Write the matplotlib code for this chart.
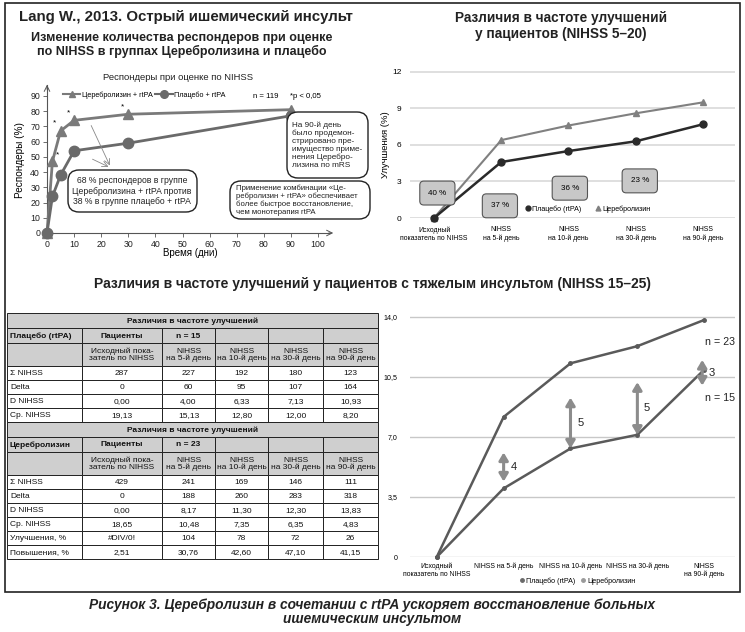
import matplotlib
matplotlib.use('Agg')
import matplotlib.pyplot as plt
from matplotlib import font_manager as fm
from matplotlib.patches import FancyBboxPatch, Rectangle
from matplotlib.lines import Line2D

W, H = 745, 632
DPI = 100

names = {f.name for f in fm.fontManager.ttflist}
SANS = 'Liberation Sans' if 'Liberation Sans' in names else 'DejaVu Sans'
HAS_NARROW = 'Liberation Sans Narrow' in names
NARROW = 'Liberation Sans Narrow' if HAS_NARROW else SANS
NS = 1.0 if HAS_NARROW else 0.85   # size factor for narrow text
plt.rcParams['font.family'] = [SANS, 'DejaVu Sans']

# ---------------- data ----------------
resp_days = [0, 2, 5, 10, 30, 90]
resp_cereb = [0, 47, 67, 74, 78, 81]
resp_placebo = [0, 24, 38, 54, 59, 77]
resp_star_days = [2, 5, 10, 30]
resp_star_vals = [47, 67, 74, 78]

mild_categories = ['Исходный\nпоказатель по NIHSS', 'NIHSS\nна 5-й день', 'NIHSS\nна 10-й день',
                   'NIHSS\nна 30-й день', 'NIHSS\nна 90-й день']
mild_cereb = [0, 6.4, 7.6, 8.6, 9.5]
mild_placebo = [0, 4.6, 5.5, 6.3, 7.7]
mild_pct_labels = ['40 %', '37 %', '36 %', '23 %']

severe_categories = ['Исходный\nпоказатель по NIHSS', 'NIHSS на 5-й день', 'NIHSS на 10-й день',
                     'NIHSS на 30-й день', 'NIHSS\nна 90-й день']
severe_yticks = [0, 3.5, 7.0, 10.5, 14.0]
severe_ytick_labels = ['0', '3,5', '7,0', '10,5', '14,0']
diff_labels = ['4', '5', '5', '3']
diff_lo = [4.4, 6.33, 7.13, 10.0]
diff_hi = [6.1, 9.3, 10.2, 11.5]

table_cols = ['Исходный пока-\nзатель по NIHSS', 'NIHSS\nна 5-й день', 'NIHSS\nна 10-й день',
              'NIHSS\nна 30-й день', 'NIHSS\nна 90-й день']
placebo_n = 15
placebo_sum = [287, 227, 192, 180, 123]
placebo_delta = [0, 60, 95, 107, 164]
placebo_d = [0.00, 4.00, 6.33, 7.13, 10.93]
placebo_mean = [19.13, 15.13, 12.80, 12.00, 8.20]
cereb_n = 23
cereb_sum = [429, 241, 169, 146, 111]
cereb_delta = [0, 188, 260, 283, 318]
cereb_d = [0.00, 8.17, 11.30, 12.30, 13.83]
cereb_mean = [18.65, 10.48, 7.35, 6.35, 4.83]
cereb_improve = ['#DIV/0!', 104, 78, 72, 26]
cereb_increase = [2.51, 30.76, 42.60, 47.10, 41.15]


def fmt(v, d=0):
    if isinstance(v, str):
        return v
    return f"{v:.{d}f}".replace('.', ',')


def rect(x0, y0, x1, y1):
    return [x0 / W, 1 - y1 / H, (x1 - x0) / W, (y1 - y0) / H]


fig = plt.figure(figsize=(W / DPI, H / DPI), dpi=DPI)

ov = fig.add_axes([0, 0, 1, 1])
ov.set_xlim(0, W)
ov.set_ylim(H, 0)
ov.axis('off')
ov.set_zorder(10)
ov.patch.set_alpha(0)

# outer frame
ov.add_patch(Rectangle((5, 3), 735, 589, fill=False, ec='#222', lw=1.2))

# ---------------- top-left ----------------
ov.text(19, 17, 'Lang W., 2013. Острый ишемический инсульт', fontsize=10.8, fontweight='bold',
        ha='left', va='center', color='#222')
ov.text(182, 45, 'Изменение количества респондеров при оценке\nпо NIHSS в группах Церебролизина и плацебо',
        fontsize=9, fontweight='bold', ha='center', va='center', linespacing=1.15, color='#222')
ov.text(178, 77, 'Респондеры при оценке по NIHSS', fontsize=6.8, ha='center', va='center', color='#222')

ax1 = fig.add_axes(rect(47, 85, 330, 233))
ax1.set_xlim(0, 104.4)
ax1.set_ylim(0, 97.2)
for s in ['top', 'right']:
    ax1.spines[s].set_visible(False)
for s in ['left', 'bottom']:
    ax1.spines[s].set_color('#555')
    ax1.spines[s].set_linewidth(0.8)
ax1.set_xticks(range(0, 101, 10))
ax1.set_yticks(range(0, 91, 10))
ax1.tick_params(labelsize=6.3, length=3, width=0.6, color='#555', pad=2, labelcolor='#222')
ax1.patch.set_alpha(0)
l1, = ax1.plot(resp_days, resp_cereb, color='#7a7a7a', lw=2, marker='^', ms=7, clip_on=False, zorder=3)
l2, = ax1.plot(resp_days, resp_placebo, color='#6a6a6a', lw=2, marker='o', ms=7.5, clip_on=False, zorder=3)
for i, (d, v) in enumerate(zip(resp_star_days, resp_star_vals)):
    off = (4, 2) if i == 0 else (-4, 3)
    ax1.annotate('*', (d, v), xytext=off, textcoords='offset points', fontsize=6, ha='center', va='bottom')
ov.annotate('', xy=(47, 82), xytext=(47, 92), arrowprops=dict(arrowstyle='->', lw=0.7, color='#555'))
ov.annotate('', xy=(336, 233), xytext=(326, 233), arrowprops=dict(arrowstyle='->', lw=0.7, color='#555'))
h_l1 = Line2D([], [], color='#7a7a7a', lw=1.5, marker='^', ms=5)
h_l2 = Line2D([], [], color='#6a6a6a', lw=1.5, marker='o', ms=5.5)
ax1.legend([h_l1, h_l2], ['Церебролизин + rtPA', 'Плацебо + rtPA'], ncol=2, fontsize=5.2, frameon=False,
           handlelength=2.4, columnspacing=0.4, handletextpad=0.2, loc='center left',
           bbox_to_anchor=(60, 95), bbox_transform=ov.transData, borderaxespad=0)
ov.text(253, 96, 'n = 119', fontsize=5.6, ha='left', va='center')
ov.text(290, 96, '*p < 0,05', fontsize=5.6, ha='left', va='center')
ov.text(190, 253, 'Время (дни)', fontsize=7, ha='center', va='center')
ov.text(20, 160, 'Респондеры (%)', fontsize=7.2, ha='center', va='center', rotation=90)


def callout(x0, y0, x1, y1, text, tx, ty, ha='center', ma='center', fs=6.2):
    ov.add_patch(FancyBboxPatch((x0, y0), x1 - x0, y1 - y0,
                                boxstyle='round,pad=0,rounding_size=11', fc='white', ec='#222', lw=1.0,
                                zorder=5))
    ov.text(tx, ty, text, fontsize=fs, ha=ha, va='center', multialignment=ma, linespacing=1.15, zorder=6,
            color='#222')


callout(68, 170, 197, 212, '68 % респондеров в группе\nЦеребролизина + rtPA против\n38 % в группе плацебо + rtPA',
        132, 191)
callout(287, 112, 368, 178, 'На 90-й день\nбыло продемон-\nстрировано пре-\nимущество приме-\nнения Церебро-\nлизина по mRS',
        292, 145, ha='left', ma='left', fs=5.9)
callout(230, 181, 370, 219, 'Применение комбинации «Це-\nребролизин + rtPA» обеспечивает\nболее быстрое восстановление,\nчем монотерапия rtPA',
        236, 200, ha='left', ma='left', fs=5.6)
for ys in (123, 158):
    ov.annotate('', xy=(111, 168), xytext=(90, ys),
                arrowprops=dict(arrowstyle='->', lw=0.6, color='#888'))

# ---------------- top-right ----------------
ov.text(561, 26, 'Различия в частоте улучшений\nу пациентов (NIHSS 5–20)', fontsize=9.8, fontweight='bold',
        ha='center', va='center', linespacing=1.1, color='#222')
ax2 = fig.add_axes(rect(410, 69.5, 735, 218))
ax2.set_xlim(-0.357, 4.476)
ax2.set_ylim(0, 12.2)
for s in ax2.spines.values():
    s.set_visible(False)
ax2.set_yticks([0, 3, 6, 9, 12])
ax2.grid(axis='y', color='#d9d9d9', lw=1.2)
ax2.set_axisbelow(True)
xs = list(range(len(mild_categories)))
ax2.set_xticks(xs)
ax2.set_xticklabels(mild_categories, fontsize=5.8 * NS, fontfamily=NARROW, linespacing=1.3)
ax2.tick_params(axis='y', labelsize=6, length=0, pad=6)
ax2.tick_params(axis='x', length=0, pad=6)
ax2.patch.set_alpha(0)
m1, = ax2.plot(xs, mild_cereb, color='#808080', lw=1.5, marker='^', ms=4, clip_on=False, zorder=3)
m2, = ax2.plot(xs, mild_placebo, color='#2a2a2a', lw=1.8, marker='o', ms=5, clip_on=False, zorder=3)
box_pos = [(0.05, 2.05), (0.98, 1.0), (2.02, 2.45), (3.06, 3.05)]
for (bx, by), lab in zip(box_pos, mild_pct_labels):
    ax2.text(bx, by, lab, fontsize=5.8, fontfamily=NARROW, ha='center', va='center', zorder=4,
             bbox=dict(boxstyle='round,pad=1.05,rounding_size=0.5', fc='#c8c8c8', ec='#555', lw=0.8))
h1 = Line2D([], [], color='#2a2a2a', marker='o', ls='', ms=3.5)
h2 = Line2D([], [], color='#808080', marker='^', ls='', ms=3.5)
ax2.legend([h1, h2], ['Плацебо (rtPA)', 'Церебролизин'], ncol=2, frameon=False,
           prop=dict(family=NARROW, size=6 * NS), handlelength=0.6, handletextpad=0.3, columnspacing=2,
           loc='center', bbox_to_anchor=(588, 209), bbox_transform=ov.transData, borderaxespad=0)
ov.text(386, 145, 'Улучшения (%)', fontsize=6.8, ha='center', va='center', rotation=90)

# ---------------- middle title ----------------
ov.text(372, 284, 'Различия в частоте улучшений у пациентов с тяжелым инсультом (NIHSS 15–25)',
        fontsize=11 if HAS_NARROW else 10, fontfamily=NARROW, fontweight='bold',
        ha='center', va='center', color='#222')

# ---------------- table ----------------
cols = [7, 82, 162, 215, 268, 323, 378]
TS = 7.0 if HAS_NARROW else 6.0
GRAY = '#cfcfcf'


def cell(x0, x1, y0, y1, text='', fc='white', bold=False, ha='center'):
    ov.add_patch(Rectangle((x0, y0), x1 - x0, y1 - y0, fc=fc, ec='#222', lw=0.7))
    if text:
        tx = (x0 + x1) / 2 if ha == 'center' else x0 + 3
        ov.text(tx, (y0 + y1) / 2 + 0.5, text, fontsize=TS, fontfamily=NARROW, ha=ha, va='center',
                fontweight='bold' if bold else 'normal', linespacing=1.0, color='#111')


def block(top, group, n, rows):
    y = top
    cell(cols[0], cols[-1], y, y + 15, 'Различия в частоте улучшений', fc=GRAY, bold=True)
    y += 15
    hdr = [group, 'Пациенты', f'n = {n}', '', '', '']
    for i, t in enumerate(hdr):
        cell(cols[i], cols[i + 1], y, y + 15, t, fc=GRAY, bold=True, ha='left' if i == 0 else 'center')
    y += 15
    sub = [''] + table_cols
    for i, t in enumerate(sub):
        cell(cols[i], cols[i + 1], y, y + 23, t, fc=GRAY)
    y += 23
    for lab, vals, d in rows:
        cell(cols[0], cols[1], y, y + 14, lab, ha='left')
        for i, v in enumerate(vals):
            cell(cols[i + 1], cols[i + 2], y, y + 14, fmt(v, d))
        y += 14
    return y


yb = block(313, 'Плацебо (rtPA)', placebo_n, [
    ('Σ NIHSS', placebo_sum, 0), ('Delta', placebo_delta, 0),
    ('D NIHSS', placebo_d, 2), ('Ср. NIHSS', placebo_mean, 2)])
block(yb, 'Церебролизин', cereb_n, [
    ('Σ NIHSS', cereb_sum, 0), ('Delta', cereb_delta, 0),
    ('D NIHSS', cereb_d, 2), ('Ср. NIHSS', cereb_mean, 2),
    ('Улучшения, %', cereb_improve, 0), ('Повышения, %', cereb_increase, 2)])

# ---------------- bottom-right ----------------
ax3 = fig.add_axes(rect(410, 313.6, 735, 557))
ax3.set_xlim(-0.40, 4.46)
ax3.set_ylim(0, 14.2)
for s in ax3.spines.values():
    s.set_visible(False)
ax3.set_yticks(severe_yticks)
ax3.set_yticklabels(severe_ytick_labels, fontsize=6 * NS, fontfamily=NARROW)
ax3.grid(axis='y', color='#c8c8c8', lw=1.0)
ax3.set_axisbelow(True)
xs3 = list(range(len(severe_categories)))
ax3.set_xticks(xs3)
ax3.set_xticklabels(severe_categories, fontsize=5.8 * NS, fontfamily=NARROW, linespacing=1.2, va='top')
ax3.tick_params(axis='y', length=0, pad=9)
ax3.tick_params(axis='x', length=0, pad=4)
ax3.patch.set_alpha(0)
ax3.plot(xs3, cereb_d, color='#5a5a5a', lw=1.8, marker='o', ms=2.5, clip_on=False, zorder=3)
ax3.plot(xs3, placebo_d, color='#5a5a5a', lw=1.8, marker='o', ms=2.5, clip_on=False, zorder=3)
for xi, lo, hi, lab in zip([1, 2, 3, 3.97], diff_lo, diff_hi, diff_labels):
    ax3.annotate('', xy=(xi, hi), xytext=(xi, lo),
                 arrowprops=dict(arrowstyle='<|-|>,head_length=0.5,head_width=0.3', color='#8c8c8c', lw=2.2,
                                 shrinkA=0, shrinkB=0, mutation_scale=9), zorder=4)
    ax3.text(xi + 0.1, (lo + hi) / 2, lab, fontsize=9.5 * NS, fontfamily=NARROW, ha='left', va='center',
             color='#222')
ov.text(720, 342, 'n = 23', fontsize=9 * NS, fontfamily=NARROW, ha='center', va='center', color='#222')
ov.text(720, 398, 'n = 15', fontsize=9 * NS, fontfamily=NARROW, ha='center', va='center', color='#222')
g1 = Line2D([], [], color='#6a6a6a', marker='o', ls='', ms=2.5)
g2 = Line2D([], [], color='#9a9a9a', marker='o', ls='', ms=2.5)
ax3.legend([g1, g2], ['Плацебо (rtPA)', 'Церебролизин'], ncol=2, frameon=False,
           prop=dict(family=NARROW, size=6 * NS), handlelength=0.6, handletextpad=0.3, columnspacing=0.8,
           loc='center', bbox_to_anchor=(578, 581), bbox_transform=ov.transData, borderaxespad=0)

# ---------------- caption ----------------
ov.text(372, 612, 'Рисунок 3. Церебролизин в сочетании с rtPA ускоряет восстановление больных\nишемическим инсультом',
        fontsize=11 if HAS_NARROW else 9.9, fontfamily=NARROW, fontweight='bold', fontstyle='italic',
        ha='center', va='center', linespacing=1.05, color='#222')

fig.savefig('out.png', dpi=DPI)
